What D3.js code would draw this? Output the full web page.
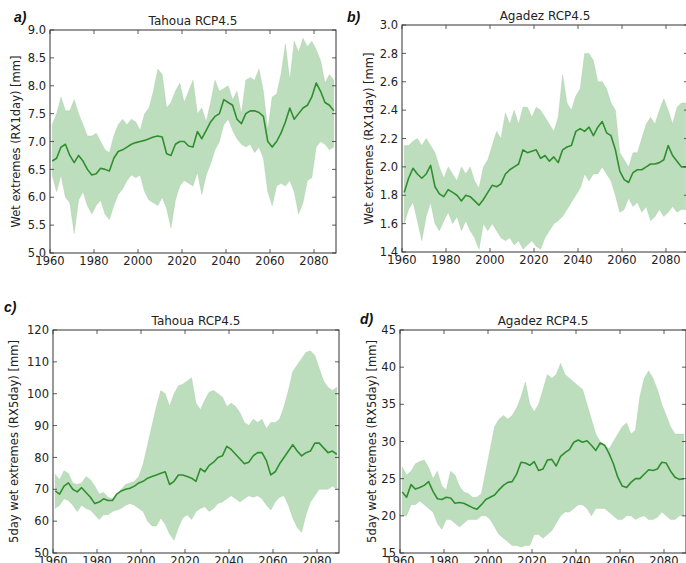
<!DOCTYPE html>
<html>
<head>
<meta charset="utf-8">
<script src="https://cdn.jsdelivr.net/npm/d3@7"></script>
<style>
  body { margin: 0; background: #fff; }
  svg { display: block; font-family: "DejaVu Sans", sans-serif; }
</style>
</head>
<body>
<svg id="chart" width="686" height="563"></svg>
<script>
// years of the running mean (every second year)
var years = [
  1961, 1963, 1965, 1967, 1969, 1971, 1973, 1975, 1977, 1979,
  1981, 1983, 1985, 1987, 1989, 1991, 1993, 1995, 1997, 1999,
  2001, 2003, 2005, 2007, 2009, 2011, 2013, 2015, 2017, 2019,
  2021, 2023, 2025, 2027, 2029, 2031, 2033, 2035, 2037, 2039,
  2041, 2043, 2045, 2047, 2049, 2051, 2053, 2055, 2057, 2059,
  2061, 2063, 2065, 2067, 2069, 2071, 2073, 2075, 2077, 2079,
  2081, 2083, 2085, 2087, 2089
];
var xTicks = [1960, 1980, 2000, 2020, 2040, 2060, 2080];

// a) Tahoua RX1day
var tahouaRx1Mean = [
  6.65, 6.7, 6.9, 6.95, 6.75, 6.62, 6.75, 6.65, 6.5, 6.4,
  6.42, 6.52, 6.5, 6.47, 6.7, 6.82, 6.85, 6.9, 6.95, 6.98,
  7.0, 7.02, 7.05, 7.08, 7.1, 7.08, 6.78, 6.75, 6.95, 7.0,
  7.0, 6.92, 6.9, 7.18, 7.05, 7.2, 7.35, 7.45, 7.5, 7.75,
  7.7, 7.65, 7.4, 7.32, 7.5, 7.55, 7.55, 7.52, 7.45, 7.0,
  6.9, 7.0, 7.15, 7.35, 7.6, 7.4, 7.5, 7.6, 7.65, 7.8,
  8.05, 7.9, 7.7, 7.65, 7.55
];
var tahouaRx1Max = [
  7.3, 7.5, 7.8, 7.55, 7.55, 7.75, 7.5, 7.3, 7.1, 7.1,
  7.15, 7.0, 6.85, 6.8, 7.1, 7.3, 7.4, 7.3, 7.4, 7.35,
  7.2, 7.5, 7.6, 7.9, 8.3, 8.2, 7.6, 7.7, 7.9, 8.05,
  7.7, 7.9, 8.1, 7.5, 7.6, 7.35, 7.7, 8.1, 7.9, 7.95,
  8.0, 7.75, 7.9, 7.5, 8.1, 8.15, 8.1, 8.3, 7.9, 7.2,
  7.8, 7.85, 8.2, 8.75, 8.1, 8.8, 8.6, 8.85, 8.7, 8.8,
  8.65, 8.45, 8.05, 8.2, 8.1
];
var tahouaRx1Min = [
  6.4, 6.1, 6.4, 6.0, 5.9, 5.35, 5.95, 6.1, 5.85, 5.7,
  5.85, 5.95, 5.7, 5.6, 5.85, 6.05, 6.15, 6.3, 6.4, 6.35,
  6.4, 6.1, 5.95, 5.9, 5.85, 6.0, 5.8, 5.45, 5.95, 6.2,
  6.3, 6.25, 6.2, 6.45, 6.05, 6.4, 6.6, 6.85, 7.0, 7.3,
  7.4, 7.2, 7.05, 6.95, 6.9, 6.95, 6.8, 6.9, 6.7, 6.1,
  5.85, 6.2, 6.25, 6.2, 6.3, 6.1, 5.7, 5.9, 6.3, 6.35,
  6.9, 7.0, 6.95, 6.85, 6.9
];

// b) Agadez RX1day
var agadezRx1Mean = [
  1.82, 1.92, 1.99, 1.95, 1.92, 1.95, 2.01, 1.86, 1.81, 1.79,
  1.84, 1.82, 1.8, 1.76, 1.8, 1.79, 1.76, 1.73, 1.77, 1.82,
  1.87, 1.86, 1.88, 1.95, 1.98, 2.0, 2.02, 2.12, 2.1, 2.11,
  2.12, 2.06, 2.08, 2.04, 2.07, 2.03, 2.12, 2.14, 2.15, 2.25,
  2.27, 2.25, 2.28, 2.22, 2.28, 2.32, 2.24, 2.22, 2.12, 1.97,
  1.91, 1.89, 1.96, 1.98, 1.98, 2.0, 2.02, 2.02, 2.03, 2.05,
  2.15, 2.08, 2.04, 2.0, 2.0
];
var agadezRx1Max = [
  2.15, 2.15, 2.18, 2.2, 2.15, 2.2, 2.15, 2.1, 2.0, 1.92,
  2.0, 1.95, 1.9, 2.0, 1.95, 2.0, 1.9, 1.85, 2.0, 2.05,
  2.15, 2.25, 2.2, 2.38, 2.3, 2.4, 2.3, 2.42, 2.42, 2.35,
  2.42, 2.4, 2.35, 2.3, 2.25, 2.35, 2.65, 2.45, 2.4, 2.5,
  2.55, 2.8, 2.8, 2.75, 2.6, 2.6, 2.55, 2.45, 2.4, 2.1,
  2.05, 2.0, 2.1, 2.1, 2.2, 2.3, 2.35, 2.3, 2.4, 2.48,
  2.4, 2.3, 2.42, 2.45, 2.45
];
var agadezRx1Min = [
  1.6, 1.7, 1.75, 1.62, 1.48, 1.65, 1.75, 1.6, 1.55, 1.62,
  1.68, 1.6, 1.65, 1.55, 1.62, 1.55, 1.5, 1.42, 1.6, 1.55,
  1.6, 1.55, 1.5, 1.48, 1.5, 1.45, 1.48, 1.42, 1.45, 1.48,
  1.44, 1.42, 1.5, 1.55, 1.6, 1.62, 1.65, 1.7, 1.75, 1.8,
  1.85, 1.95, 1.9, 1.95, 1.95, 2.0, 1.95, 1.9, 1.8, 1.68,
  1.7, 1.78, 1.72, 1.75, 1.68, 1.72, 1.62, 1.65, 1.7, 1.65,
  1.68, 1.72, 1.68, 1.7, 1.7
];

// c) Tahoua RX5day
var tahouaRx5Mean = [
  69.5, 68.5, 71, 72, 70, 69.2, 70.5, 69, 67.5, 65.5,
  66, 67, 66.5, 66.5, 68.5, 69.5, 70, 70.3, 71, 72,
  72.5, 73.5, 74, 74.5, 75, 75.5, 71.5, 72.5, 74.5, 74.5,
  74, 73.5, 72.5, 76.5, 75.5, 77.5, 78.5, 80, 80.5, 83.5,
  82.5, 81, 79.5, 78, 78.5, 80.5, 81.5, 81.5, 79, 74.5,
  75.5, 78, 80, 82, 84, 82, 80.5, 81.5, 82, 84.5,
  84.5, 83, 81.5, 82, 81
];
var tahouaRx5Max = [
  74.7, 73, 75.8, 75, 72, 71.5, 72, 74, 73, 71,
  68.5, 69, 67.5, 67, 68, 70, 71.5, 72, 72.5, 74,
  78, 84, 90, 96, 101, 100, 96, 100, 102.5, 103,
  104, 105, 97, 95, 98, 100.5, 101, 100, 99, 96,
  97, 96, 94, 91, 90, 92, 91, 92, 89, 91,
  91, 92, 96, 101, 107, 109, 111, 113, 113.5, 112,
  108, 104, 102, 101, 102
];
var tahouaRx5Min = [
  64, 65, 67, 66.5, 65, 63, 65, 64, 63.5, 62,
  60.5, 62, 62, 63, 63.5, 64, 65, 65.5, 65, 64,
  63, 60, 58.5, 58.5, 61, 59, 56, 54, 58, 61,
  62, 60.5, 63, 64, 64.5, 63, 64, 65.5, 66, 67,
  68, 67, 66, 67, 68, 67.5, 68, 67, 65, 63.5,
  66, 67.5, 68, 65, 61, 58, 56.5, 62, 66, 68,
  70, 70, 70, 71, 70
];

// d) Agadez RX5day
var agadezRx5Mean = [
  23.2, 22.5, 24.2, 23.6, 23.8, 24.1, 24.6, 23.3, 22.3, 22.2,
  22.5, 22.4, 21.7, 21.8, 21.7, 21.4, 21.1, 20.9, 21.5, 22.2,
  22.5, 22.8, 23.5, 24.1, 24.5, 24.6, 25.6, 27.2, 27.1, 26.8,
  27.3, 26.1, 26.3, 27.5, 27.6, 26.7, 28, 28.5, 28.9, 29.9,
  30.2, 29.9, 30.1, 29.5, 28.8, 29.8, 29.5, 28.4, 27, 25.2,
  24, 23.8, 24.5, 25, 25, 25.6, 26.2, 26.1, 26.3, 27.2,
  27.1, 26, 25.2, 24.9, 25
];
var agadezRx5Max = [
  26.6, 25.5, 26, 27, 27.3, 27.5, 26.5, 25, 26, 24,
  23.5, 26, 25.5, 24, 23.2, 23, 22.5, 22.5, 23, 26,
  29, 32, 33, 33.5, 33, 33.5, 34.5, 36, 38, 35,
  34, 35, 37, 39, 38.5, 39, 40.5, 39, 38.5, 38,
  37.5, 37, 35, 33, 31, 30, 29.5, 29, 30, 31,
  32, 32.5, 31, 31.5, 36, 38.5, 39.5, 38.5, 37, 35,
  33.5, 32, 31, 31, 31
];
var agadezRx5Min = [
  20, 20, 21.5, 21.5, 22, 21.5, 21, 20.5, 19, 18.2,
  19.5, 19.5, 19, 18.5, 19, 19.5, 19.5, 19.5, 20, 20,
  19.5, 18.5, 17.5, 17, 16.5, 16, 16, 15.8, 16, 16,
  17.5, 17.5, 17, 17.5, 18, 19, 20, 20.5, 20.5, 21,
  21.5, 21.5, 21, 20, 21, 21, 21, 20.5, 20, 19.5,
  19.5, 20, 20, 19.5, 19.8, 20, 19.5, 19.5, 19.8, 20.5,
  20, 19.5, 19.5, 20, 20
];

var rx1Ticks = [5.0, 5.5, 6.0, 6.5, 7.0, 7.5, 8.0, 8.5, 9.0];
var rx1AgTicks = [1.4, 1.6, 1.8, 2.0, 2.2, 2.4, 2.6, 2.8, 3.0];
var rx5Ticks = [50, 60, 70, 80, 90, 100, 110, 120];
var rx5AgTicks = [15, 20, 25, 30, 35, 40, 45];

var panels = [
  { tag: "a)", title: "Tahoua RCP4.5", ylabel: "Wet extremes (RX1day) [mm]",
    left: 50, top: 30, width: 286, height: 223, yTicks: rx1Ticks, fmt: ".1f",
    mean: tahouaRx1Mean, hi: tahouaRx1Max, lo: tahouaRx1Min,
    tagX: 14, tagY: 22, labelX: 16 },
  { tag: "b)", title: "Agadez RCP4.5", ylabel: "Wet extremes (RX1day) [mm]",
    left: 402, top: 25, width: 286, height: 227, yTicks: rx1AgTicks, fmt: ".1f",
    mean: agadezRx1Mean, hi: agadezRx1Max, lo: agadezRx1Min,
    tagX: 347, tagY: 22, labelX: 369 },
  { tag: "c)", title: "Tahoua RCP4.5", ylabel: "5day wet extremes (RX5day) [mm]",
    left: 53, top: 330, width: 286, height: 223, yTicks: rx5Ticks, fmt: "d",
    mean: tahouaRx5Mean, hi: tahouaRx5Max, lo: tahouaRx5Min,
    tagX: 4, tagY: 312, labelX: 14 },
  { tag: "d)", title: "Agadez RCP4.5", ylabel: "5day wet extremes (RX5day) [mm]",
    left: 400, top: 330, width: 286, height: 223, yTicks: rx5AgTicks, fmt: "d",
    mean: agadezRx5Mean, hi: agadezRx5Max, lo: agadezRx5Min,
    tagX: 360, tagY: 324, labelX: 372 }
];

var svg = d3.select("#chart");

function drawPanel(p, i) {
  var x = d3.scaleLinear().domain([1960, 2090]).range([0, p.width]);
  var yExt = d3.extent(p.yTicks);
  var y = d3.scaleLinear().domain(yExt).range([p.height, 0]);

  var g = svg.append("g").attr("transform", "translate(" + p.left + "," + p.top + ")");

  g.append("clipPath").attr("id", "clip" + i)
    .append("rect").attr("width", p.width).attr("height", p.height);

  var rows = years.map(function(yr, k) {
    return { t: yr, m: p.mean[k], hi: p.hi[k], lo: p.lo[k] };
  });

  var area = d3.area()
    .x(function(d) { return x(d.t); })
    .y0(function(d) { return y(d.lo); })
    .y1(function(d) { return y(d.hi); });

  var line = d3.line()
    .x(function(d) { return x(d.t); })
    .y(function(d) { return y(d.m); });

  var plot = g.append("g").attr("clip-path", "url(#clip" + i + ")");
  plot.append("path").datum(rows)
    .attr("d", area)
    .attr("fill", "#008000")
    .attr("fill-opacity", 0.26)
    .attr("stroke", "#9fbf9f")
    .attr("stroke-width", 0.6)
    .attr("stroke-opacity", 0.5);
  plot.append("path").datum(rows)
    .attr("d", line)
    .attr("fill", "none")
    .attr("stroke", "#2f8f2f")
    .attr("stroke-width", 1.6)
    .attr("stroke-linejoin", "round");

  // ticks inside, on all four sides (classic matplotlib look)
  var tickLen = 4;
  var tk = g.append("g").attr("stroke", "#333").attr("stroke-width", 0.8);
  xTicks.forEach(function(t) {
    tk.append("line").attr("x1", x(t)).attr("x2", x(t)).attr("y1", p.height).attr("y2", p.height - tickLen);
    tk.append("line").attr("x1", x(t)).attr("x2", x(t)).attr("y1", 0).attr("y2", tickLen);
  });
  p.yTicks.forEach(function(t) {
    tk.append("line").attr("x1", 0).attr("x2", tickLen).attr("y1", y(t)).attr("y2", y(t));
    tk.append("line").attr("x1", p.width).attr("x2", p.width - tickLen).attr("y1", y(t)).attr("y2", y(t));
  });

  g.append("rect")
    .attr("width", p.width).attr("height", p.height)
    .attr("fill", "none").attr("stroke", "#333").attr("stroke-width", 1);

  var fmt = d3.format(p.fmt);
  g.selectAll(".ytl").data(p.yTicks).enter().append("text")
    .attr("x", -4).attr("y", function(d) { return y(d); })
    .attr("dy", "0.36em").attr("text-anchor", "end")
    .attr("font-size", 11.5).attr("fill", "#222")
    .text(function(d) { return fmt(d); });

  g.selectAll(".xtl").data(xTicks).enter().append("text")
    .attr("x", function(d) { return x(d); }).attr("y", p.height + 12)
    .attr("text-anchor", "middle")
    .attr("font-size", 11.5).attr("fill", "#222")
    .text(function(d) { return d; });

  g.append("text")
    .attr("x", p.width / 2).attr("y", -5)
    .attr("text-anchor", "middle")
    .attr("font-size", 12).attr("fill", "#222")
    .text(p.title);

  svg.append("text")
    .attr("transform", "translate(" + p.labelX + "," + (p.top + p.height / 2) + ") rotate(-90)")
    .attr("text-anchor", "middle").attr("dy", "0.35em")
    .attr("font-size", 11.5).attr("fill", "#222")
    .text(p.ylabel);

  svg.append("text")
    .attr("x", p.tagX).attr("y", p.tagY)
    .attr("font-family", "Liberation Sans, sans-serif")
    .attr("font-style", "italic").attr("font-weight", "bold")
    .attr("font-size", 14).attr("fill", "#111")
    .text(p.tag);
}

panels.forEach(drawPanel);
</script>
</body>
</html>
